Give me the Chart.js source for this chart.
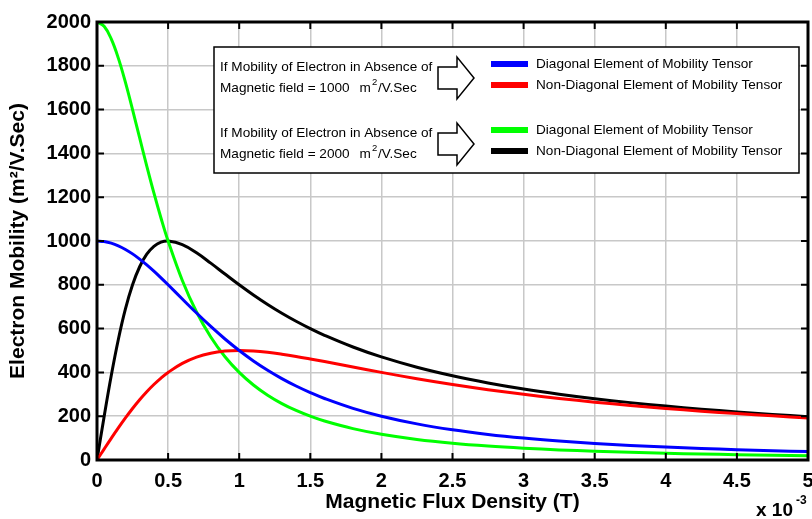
<!DOCTYPE html>
<html>
<head>
<meta charset="utf-8">
<script src="https://cdn.jsdelivr.net/npm/chart.js@4.4.1/dist/chart.umd.min.js"></script>
<style>
  html, body { margin: 0; padding: 0; background: #fff; }
  #wrap { width: 812px; height: 519px; }
</style>
</head>
<body>
<div id="wrap"><canvas id="chart" width="812" height="519"></canvas></div>
<script>
// magnetic flux density, x 10^-3 T
const fluxB = [0, 0.05, 0.1, 0.15, 0.2, 0.25, 0.3, 0.35, 0.4, 0.45, 0.5, 0.6, 0.7, 0.8, 0.9, 1.0,
  1.1, 1.2, 1.3, 1.4, 1.5, 1.6, 1.8, 2.0, 2.25, 2.5, 2.75, 3.0, 3.25, 3.5, 3.75, 4.0, 4.25, 4.5, 4.75, 5.0];

// mobility 1000 m2/V.Sec
const diag1000 = [1000, 997.5, 990.1, 978.0, 961.5, 941.2, 917.4, 890.9, 862.1, 831.6, 800, 735.3, 671.1, 609.8, 552.5, 500,
  452.5, 409.8, 371.7, 337.8, 307.7, 280.9, 235.8, 200, 164.9, 137.9, 116.8, 100, 86.5, 75.5, 66.4, 58.8, 52.5, 47.1, 42.4, 38.5];
const offDiag1000 = [0, 49.9, 99.0, 146.7, 192.3, 235.3, 275.2, 311.8, 344.8, 374.2, 400, 441.2, 469.8, 487.8, 497.2, 500,
  497.7, 491.8, 483.2, 473.0, 461.5, 449.4, 424.5, 400, 371.1, 344.8, 321.2, 300, 281.1, 264.2, 249.0, 235.3, 222.9, 211.8, 201.6, 192.3];

// mobility 2000 m2/V.Sec
const diag2000 = [2000, 1980.2, 1923.1, 1834.9, 1724.1, 1600, 1470.6, 1342.3, 1219.5, 1105.0, 1000, 819.7, 675.7, 561.8, 471.7, 400,
  342.5, 295.9, 257.7, 226.2, 200, 177.9, 143.3, 117.6, 94.1, 76.9, 64.0, 54.1, 46.2, 40, 34.9, 30.8, 27.3, 24.4, 21.9, 19.8];
const offDiag2000 = [0, 198.0, 384.6, 550.5, 689.7, 800, 882.4, 939.6, 975.6, 994.5, 1000, 983.6, 946.0, 898.9, 849.1, 800,
  753.4, 710.1, 670.1, 633.5, 600, 569.4, 515.9, 470.6, 423.5, 384.6, 352.0, 324.3, 300.6, 280, 262.0, 246.2, 232.1, 219.5, 208.2, 198.0];

const xTicks = [0, 0.5, 1, 1.5, 2, 2.5, 3, 3.5, 4, 4.5, 5];
const yTicks = [0, 200, 400, 600, 800, 1000, 1200, 1400, 1600, 1800, 2000];

const legendGroups = [
  { note: ['If Mobility of Electron in Absence of', 'Magnetic field = 1000'],
    items: [['Diagonal Element of Mobility Tensor', '#0000ff'], ['Non-Diagonal Element of Mobility Tensor', '#ff0000']] },
  { note: ['If Mobility of Electron in Absence of', 'Magnetic field = 2000'],
    items: [['Diagonal Element of Mobility Tensor', '#00ff00'], ['Non-Diagonal Element of Mobility Tensor', '#000000']] }
];

const FONT = '"Liberation Sans", Arial, sans-serif';

function series(vals, color) {
  return {
    data: fluxB.map((b, i) => ({ x: b, y: vals[i] })),
    borderColor: color,
    borderWidth: 3,
    pointRadius: 0,
    tension: 0.4,
    fill: false
  };
}

// box, inward ticks, legend box and exponent label
const decorations = {
  id: 'decorations',
  afterDraw(chart) {
    const ctx = chart.ctx;
    const a = chart.chartArea;
    const xs = chart.scales.x, ys = chart.scales.y;
    ctx.save();
    ctx.strokeStyle = '#000';
    ctx.lineWidth = 2;
    xTicks.forEach(t => {
      const px = xs.getPixelForValue(t);
      ctx.beginPath();
      ctx.moveTo(px, a.bottom); ctx.lineTo(px, a.bottom - 7);
      ctx.moveTo(px, a.top); ctx.lineTo(px, a.top + 7);
      ctx.stroke();
    });
    yTicks.forEach(t => {
      const py = ys.getPixelForValue(t);
      ctx.beginPath();
      ctx.moveTo(a.left, py); ctx.lineTo(a.left + 7, py);
      ctx.moveTo(a.right, py); ctx.lineTo(a.right - 7, py);
      ctx.stroke();
    });
    ctx.lineWidth = 3;
    ctx.strokeRect(a.left, a.top, a.right - a.left, a.bottom - a.top);

    // legend box
    const bx = 214, by = 47, bw = 585, bh = 126;
    ctx.fillStyle = '#fff';
    ctx.fillRect(bx, by, bw, bh);
    ctx.lineWidth = 1.5;
    ctx.strokeRect(bx, by, bw, bh);

    ctx.fillStyle = '#000';
    ctx.textBaseline = 'middle';
    legendGroups.forEach((g, gi) => {
      const y0 = by + 20 + gi * 66;
      ctx.font = '13.6px ' + FONT;
      ctx.textAlign = 'left';
      ctx.fillText(g.note[0], 220, y0);
      ctx.fillText(g.note[1], 220, y0 + 21);
      const w = ctx.measureText(g.note[1]).width;
      ctx.fillText('m', 220 + w + 10, y0 + 21);
      const mw = ctx.measureText('m').width;
      ctx.font = '9.5px ' + FONT;
      ctx.fillText('2', 220 + w + 10 + mw + 1, y0 + 15);
      ctx.font = '13.6px ' + FONT;
      ctx.fillText('/V.Sec', 220 + w + 10 + mw + 7, y0 + 21);

      // hollow arrow
      const ax = 438, ay = y0 + 11;
      ctx.beginPath();
      ctx.moveTo(ax, ay - 11);
      ctx.lineTo(ax + 19, ay - 11);
      ctx.lineTo(ax + 19, ay - 21);
      ctx.lineTo(ax + 36, ay);
      ctx.lineTo(ax + 19, ay + 21);
      ctx.lineTo(ax + 19, ay + 11);
      ctx.lineTo(ax, ay + 11);
      ctx.closePath();
      ctx.lineWidth = 1.5;
      ctx.strokeStyle = '#000';
      ctx.stroke();

      g.items.forEach((it, ii) => {
        const ly = y0 - 3 + ii * 21;
        ctx.fillStyle = it[1];
        ctx.fillRect(491, ly - 3, 37, 6);
        ctx.fillStyle = '#000';
        ctx.font = '13.6px ' + FONT;
        ctx.fillText(it[0], 536, ly);
      });
    });

    // x 10^-3
    ctx.font = 'bold 19px ' + FONT;
    ctx.textAlign = 'left';
    ctx.textBaseline = 'alphabetic';
    ctx.fillText('x 10', 756, 516);
    ctx.font = 'bold 12px ' + FONT;
    ctx.fillText('-3', 796, 504);
    ctx.restore();
  }
};

new Chart(document.getElementById('chart'), {
  type: 'line',
  data: {
    datasets: [
      series(diag1000, '#0000ff'),
      series(offDiag1000, '#ff0000'),
      series(diag2000, '#00ff00'),
      series(offDiag2000, '#000000')
    ]
  },
  options: {
    responsive: false,
    animation: false,
    layout: { padding: { top: 22, right: 4, left: 2, bottom: 0 } },
    plugins: { legend: { display: false }, tooltip: { enabled: false } },
    scales: {
      x: {
        type: 'linear',
        min: 0, max: 5,
        afterBuildTicks(s) { s.ticks = xTicks.map(v => ({ value: v })); },
        afterFit(s) { s.height = 59; s.paddingRight = 0; s.paddingLeft = 0; },
        grid: { color: '#c8c8c8', lineWidth: 1.5, drawTicks: false },
        border: { display: false },
        ticks: {
          color: '#000', padding: 9,
          font: { family: FONT, size: 20, weight: 'bold' },
          maxRotation: 0,
          callback: v => String(v)
        },
        title: {
          display: true, text: 'Magnetic Flux Density (T)', color: '#000',
          font: { family: FONT, size: 21, weight: 'bold' },
          padding: { top: 3 }
        }
      },
      y: {
        min: 0, max: 2000,
        afterBuildTicks(s) { s.ticks = yTicks.map(v => ({ value: v })); },
        afterFit(s) { s.width = 95; },
        grid: { color: '#c8c8c8', lineWidth: 1.5, drawTicks: false },
        border: { display: false },
        ticks: {
          color: '#000', padding: 6,
          font: { family: FONT, size: 20, weight: 'bold' },
          callback: v => String(v)
        },
        title: {
          display: true, text: 'Electron Mobility (m²/V.Sec)', color: '#000',
          font: { family: FONT, size: 21, weight: 'bold' },
          padding: { bottom: 0 }
        }
      }
    }
  },
  plugins: [decorations]
});
</script>
</body>
</html>
